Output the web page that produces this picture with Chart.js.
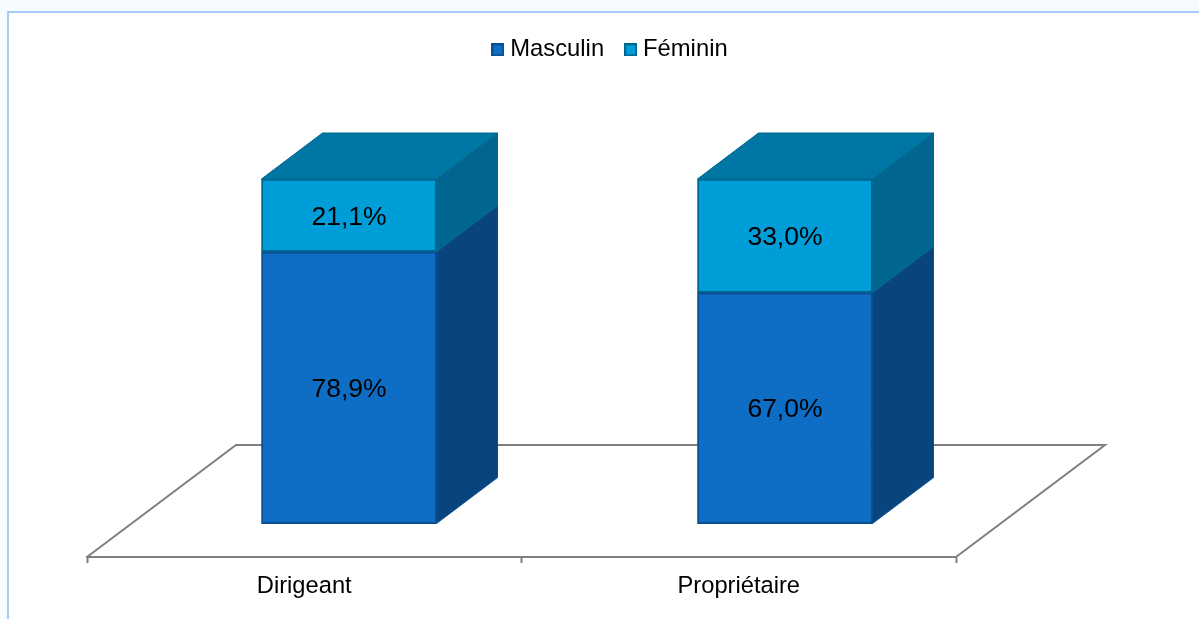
<!DOCTYPE html>
<html>
<head>
<meta charset="utf-8">
<title>Dirigeant / Propriétaire</title>
<script src="https://cdn.jsdelivr.net/npm/chart.js@4/dist/chart.umd.min.js"></script>
<style>
  html, body { margin: 0; padding: 0; background: #f6fbff; overflow: hidden; }
  #frame { position: absolute; left: 7px; top: 11px; right: 0; bottom: 0; background: #fff;
           border-left: 2px solid #a3cdf3; border-top: 2px solid #a3cdf3; }
  #chart { position: absolute; left: 0; top: 0; }
</style>
</head>
<body>
<div id="frame"></div>
<canvas id="chart" width="1199" height="619"></canvas>
<script>
var categories = ['Dirigeant', 'Propriétaire'];
var masculin = [78.9, 67.0];
var feminin = [21.1, 33.0];

var font = 'Liberation Sans, Arial, sans-serif';
var depthX = 61, depthY = 46;       // depth of the bars
var floorX = 149, floorY = 112;     // depth of the floor

var colors = {
    masculin: { front: '#0e6dc4', side: '#08447e', edge: '#0a4f91' },
    feminin: { front: '#009ed9', side: '#00658f', top: '#0076a4', edge: '#00688f' }
};

function swatch(fill, edge) {
    var c = document.createElement('canvas');
    c.width = 13;
    c.height = 13;
    var g = c.getContext('2d');
    g.fillStyle = fill;
    g.fillRect(0, 0, 13, 13);
    g.strokeStyle = edge;
    g.lineWidth = 2;
    g.strokeRect(1, 1, 11, 11);
    return c;
}

function poly(ctx, pts, fill, edge) {
    ctx.beginPath();
    ctx.moveTo(pts[0][0], pts[0][1]);
    for (var i = 1; i < pts.length; i++) ctx.lineTo(pts[i][0], pts[i][1]);
    ctx.closePath();
    ctx.fillStyle = fill;
    ctx.fill();
    ctx.strokeStyle = edge;
    ctx.lineWidth = 1;
    ctx.stroke();
}

var scene3d = {
    id: 'scene3d',
    beforeInit: function(chart) {
        // fixed legend band so the plot top lands where value 100 belongs
        var fit = chart.legend.fit;
        chart.legend.fit = function() {
            fit.call(this);
            this.height = 167;
        };
    },
    afterLayout: function(chart) {
        chart.legend.left += 91;
        chart.legend.right += 91;
    },
    beforeDatasetsDraw: function(chart) {
        var a = chart.chartArea, ctx = chart.ctx;
        ctx.save();
        ctx.strokeStyle = '#7f7f7f';
        ctx.lineWidth = 2;
        ctx.beginPath();
        ctx.moveTo(a.left, a.bottom);
        ctx.lineTo(a.left + floorX, a.bottom - floorY);
        ctx.lineTo(a.right + floorX, a.bottom - floorY);
        ctx.lineTo(a.right, a.bottom);
        ctx.stroke();
        ctx.restore();
    },
    afterDatasetsDraw: function(chart) {
        var ctx = chart.ctx;
        ctx.save();
        chart.data.datasets.forEach(function(ds, d) {
            var c = d === 0 ? colors.masculin : colors.feminin;
            chart.getDatasetMeta(d).data.forEach(function(bar, i) {
                var r = bar.x + bar.width / 2, l = bar.x - bar.width / 2;
                poly(ctx, [[r, bar.base], [r + depthX, bar.base - depthY],
                           [r + depthX, bar.y - depthY], [r, bar.y]], c.side, c.edge);
                if (d === chart.data.datasets.length - 1) {
                    poly(ctx, [[l, bar.y], [l + depthX, bar.y - depthY],
                               [r + depthX, bar.y - depthY], [r, bar.y]], c.top, c.edge);
                }
                ctx.fillStyle = '#000';
                ctx.font = '26.5px ' + font;
                ctx.textAlign = 'center';
                ctx.textBaseline = 'middle';
                ctx.fillText(ds.data[i].y.toFixed(1).replace('.', ',') + '%', bar.x, (bar.y + bar.base) / 2 + 2);
            });
        });
        ctx.restore();
    }
};

function points(values) {
    return values.map(function(v, i) {
        return { x: i, y: v };
    });
}

new Chart(document.getElementById('chart').getContext('2d'), {
    type: 'bar',
    plugins: [scene3d],
    data: {
        labels: categories,
        datasets: [
            {
                label: 'Masculin',
                data: points(masculin),
                xAxisID: 'xBar',
                stack: 'a',
                backgroundColor: colors.masculin.front,
                borderColor: colors.masculin.edge,
                borderWidth: 2,
                borderSkipped: false,
                pointStyle: swatch(colors.masculin.front, colors.masculin.edge)
            },
            {
                label: 'Féminin',
                data: points(feminin),
                xAxisID: 'xBar',
                stack: 'a',
                backgroundColor: colors.feminin.front,
                borderColor: colors.feminin.edge,
                borderWidth: 2,
                borderSkipped: false,
                pointStyle: swatch(colors.feminin.front, colors.feminin.edge)
            }
        ]
    },
    options: {
        responsive: false,
        animation: false,
        barThickness: 175,
        layout: { padding: { left: 87, right: 243, top: 12, bottom: 0 } },
        plugins: {
            tooltip: { enabled: false },
            legend: {
                position: 'top',
                labels: {
                    usePointStyle: true,
                    pointStyleWidth: 1,
                    padding: 26,
                    color: '#000',
                    font: { family: font, size: 23.8 }
                }
            }
        },
        scales: {
            x: {
                type: 'category',
                offset: true,
                afterFit: function(s) { s.height = 62; },
                grid: { offset: true, drawOnChartArea: false, drawTicks: true, tickLength: 6, tickColor: '#7f7f7f', tickWidth: 2 },
                border: { color: '#7f7f7f', width: 2 },
                ticks: { color: '#000', padding: 9, maxRotation: 0, font: { family: font, size: 23.7 } }
            },
            // hidden axis for the bars: they stand back from the floor's front edge
            xBar: {
                type: 'linear',
                display: false,
                stacked: true,
                offset: false,
                min: -0.6009,
                max: 1.3923
            },
            y: {
                display: false,
                stacked: true,
                min: -9.7,
                max: 100
            }
        }
    }
});
</script>
</body>
</html>
